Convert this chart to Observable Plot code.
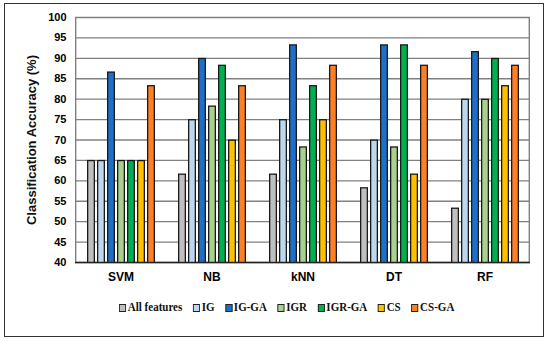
<!DOCTYPE html>
<html><head><meta charset="utf-8">
<script src="https://cdn.jsdelivr.net/npm/d3@7"></script>
<script src="https://cdn.jsdelivr.net/npm/@observablehq/plot@0.6"></script>
<style>
body{margin:0;background:#fff;}
#wrap{position:relative;width:550px;height:342px;overflow:hidden;}
#chart svg{display:block}
#border{position:absolute;left:4px;top:3px;width:538px;height:332px;border:1.5px solid #333;pointer-events:none}
#legend{position:absolute;left:119px;top:300px;display:flex;align-items:center;font:bold 12.5px "Liberation Serif","Times New Roman",serif;color:#111;transform:scaleX(0.88);transform-origin:left center;white-space:nowrap}
.item{display:flex;align-items:center;margin-right:12px}
.sw{width:6px;height:6px;border:1.5px solid #222;margin-right:2px}
</style>
</head><body>
<div id="wrap"><div id="chart"></div><div id="legend"></div><div id="border"></div></div>
<script>
const categories = ["SVM", "NB", "kNN", "DT", "RF"];
const series = ["All features", "IG", "IG-GA", "IGR", "IGR-GA", "CS", "CS-GA"];
const colors = ["#bfbfbf", "#bdd7ee", "#1f6fc8", "#a9d18e", "#00b050", "#ffc000", "#ff7f27"];
const allFeatures = [65, 61.67, 61.67, 58.33, 53.33];
const ig = [65, 75, 75, 70, 80];
const igGa = [86.67, 90, 93.33, 93.33, 91.67];
const igr = [65, 78.33, 68.33, 68.33, 80];
const igrGa = [65, 88.33, 83.33, 93.33, 90];
const cs = [65, 70, 75, 61.67, 83.33];
const csGa = [83.33, 83.33, 88.33, 88.33, 88.33];
const yTicks = [40, 45, 50, 55, 60, 65, 70, 75, 80, 85, 90, 95, 100];
const yLabel = "Classification Accuracy (%)";

const seriesValues = [allFeatures, ig, igGa, igr, igrGa, cs, csGa];
const table = [];
categories.forEach((c, i) => series.forEach((s, j) => table.push({category: c, series: s, value: seriesValues[j][i]})));
const gridRows = [];
categories.forEach(c => yTicks.forEach(v => gridRows.push({category: c, v})));
const baseRows = categories.map(c => ({category: c}));
const leftRows = [{category: categories[0]}];
const rightRows = [{category: categories[categories.length - 1]}];
const yMin = yTicks[0], yMax = yTicks[yTicks.length - 1];
const gridColor = "#808080", outline = "#1a1a1a";

const chart = Plot.plot({
  width: 550, height: 298,
  marginTop: 17, marginBottom: 36, marginLeft: 73, marginRight: 19,
  style: {fontFamily: "'Liberation Sans', Arial, sans-serif", fontWeight: "bold"},
  fx: {domain: categories, paddingInner: 0, paddingOuter: 0, label: null},
  x: {domain: series, paddingInner: 0.25, paddingOuter: 0.8, axis: null},
  y: {domain: [yMin, yMax], label: null},
  color: {domain: series, range: colors},
  marks: [
    // plot-area side borders (left of first group, right of last group)
    Plot.barY(leftRows, {fx: "category", y1: yMin, y2: yMax, fill: gridColor}),
    Plot.barY(leftRows, {fx: "category", y1: yMin, y2: yMax, fill: "white", insetLeft: 1.4}),
    Plot.barY(rightRows, {fx: "category", y1: yMin, y2: yMax, fill: gridColor}),
    Plot.barY(rightRows, {fx: "category", y1: yMin, y2: yMax, fill: "white", insetRight: 1.4}),
    // gridlines
    Plot.ruleY(gridRows, {fx: "category", y: "v", stroke: gridColor, strokeWidth: 1.4}),
    // bars: dark outline underneath, coloured fill inset on top
    Plot.barY(table, {fx: "category", x: "series", y1: yMin, y2: "value", fill: outline}),
    Plot.barY(table, {fx: "category", x: "series", y1: yMin, y2: "value", fill: "series", insetLeft: 1.3, insetRight: 1.3, insetTop: 1.3}),
    // baseline
    Plot.ruleY(baseRows, {fx: "category", y: () => yMin, stroke: "#222", strokeWidth: 1.5}),
    Plot.axisY(yTicks, {tickSize: 0, tickPadding: 9, fontSize: 11, label: null}),
    Plot.axisFx({anchor: "bottom", tickSize: 0, tickPadding: 10, fontSize: 12, label: null}),
    Plot.text([yLabel], {frameAnchor: "left", textAnchor: "middle", rotate: -90, dx: -44, fontSize: 13, facetAnchor: "left", fill: "#111"})
  ]
});
document.getElementById("chart").appendChild(chart);

const legend = document.getElementById("legend");
series.forEach((s, i) => {
  const item = document.createElement("div");
  item.className = "item";
  const sw = document.createElement("span");
  sw.className = "sw";
  sw.style.background = colors[i];
  const t = document.createElement("span");
  t.textContent = s;
  item.appendChild(sw); item.appendChild(t);
  legend.appendChild(item);
});
</script>
</body></html>
